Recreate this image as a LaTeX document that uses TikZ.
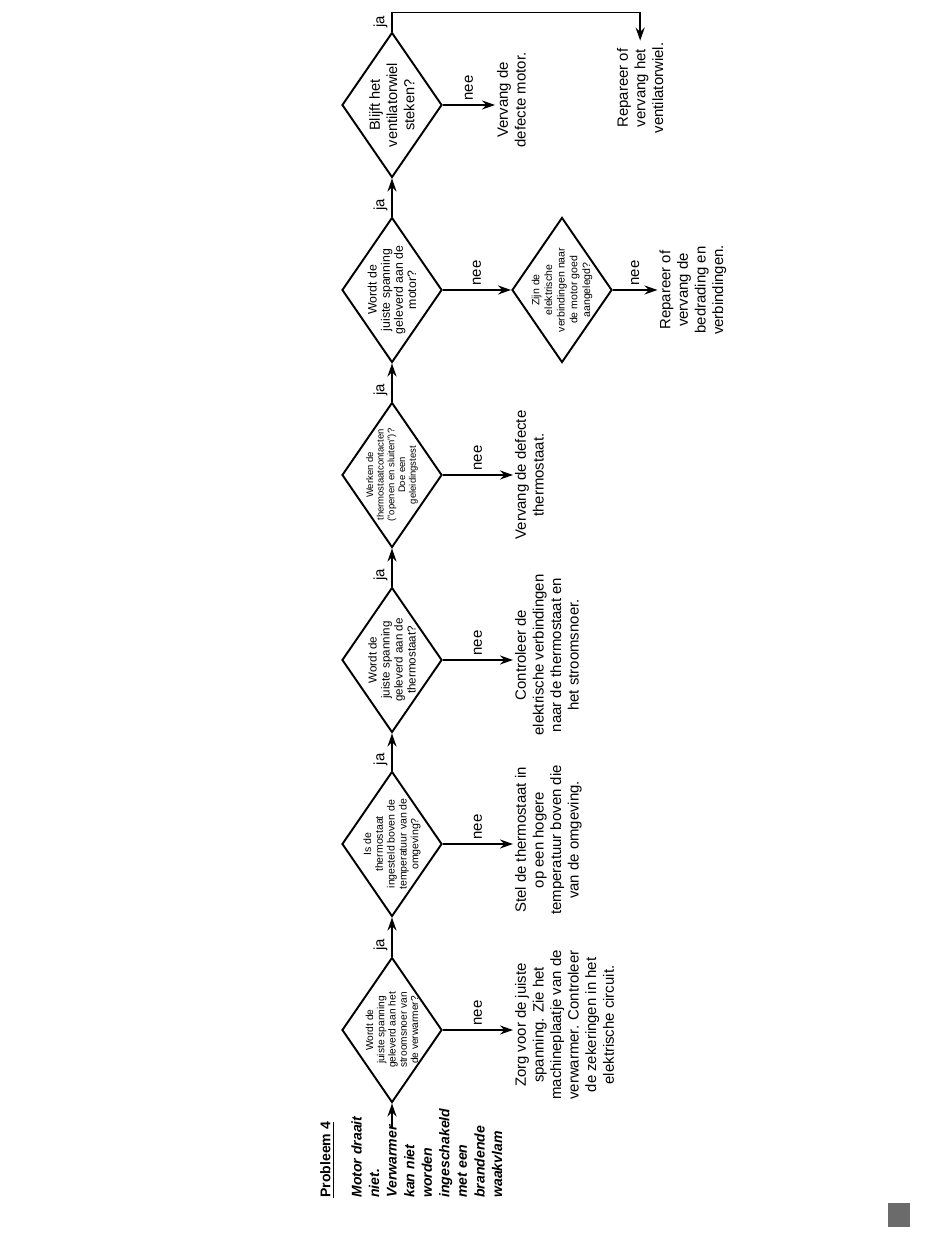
\documentclass[tikz,border=0pt]{standalone}
\usepackage{fontspec}
\setmainfont{Liberation Sans}
\usetikzlibrary{arrows.meta,shapes.geometric}

\begin{document}
\begin{tikzpicture}[
    >={Stealth[length=2.6mm,width=1.8mm]},
    dia/.style={draw, diamond, line width=1.1pt, minimum width=2.9cm,
                minimum height=2cm, inner sep=-5mm, align=center},
    act/.style={align=center, inner sep=1pt,
                font=\fontsize{8.5}{10}\selectfont},
    ttl/.style={inner sep=0pt, font=\fontsize{8}{10}\selectfont\bfseries},
    intro/.style={align=left, inner sep=0pt,
                  font=\fontsize{8}{10}\selectfont\bfseries\itshape},
    lab/.style={inner sep=2pt, font=\fontsize{8.5}{10}\selectfont},
    sig/.style={->, line width=1.1pt},
  ]
  \useasboundingbox (0,0) rectangle (19,24.82);

  %% the chart is set on its side: x runs up the page, y runs to the left
  \begin{scope}[rotate=90, transform shape]

  %% ---- problem statement ------------------------------------------
  \node[ttl, anchor=west] (title) at (0.86,-6.54) {\underline{Probleem 4}};
  \node[intro, anchor=north west] (intro) at (0.86,-7.02)
  {Motor draait\\niet.\\Verwarmer\\kan niet\\worden\\ingeschakeld\\met een\\brandende\\waakvlam};
  \coordinate (vw) at (2.26,-7.84);

  %% ---- question row (y = -7.84) -----------------------------------
  \node[dia, font=\fontsize{5.8}{6.4}\selectfont] (D1) at ( 4.22,-7.84)
  {Wordt de\\juiste spanning\\geleverd aan het\\stroomsnoer van\\de verwarmer?};
  \node[dia, font=\fontsize{6}{6.7}\selectfont] (D2) at ( 7.94,-7.84)
  {Is de\\thermostaat\\ingesteld boven de\\temperatuur van de\\omgeving?};
  \node[dia, font=\fontsize{6.6}{7.4}\selectfont] (D3) at (11.62,-7.84)
  {Wordt de\\juiste spanning\\geleverd aan de\\thermostaat?};
  \node[dia, font=\fontsize{5.4}{6.1}\selectfont] (D4) at (15.32,-7.84)
  {Werken de\\thermostaatcontacten\\("openen en sluiten")?\\Doe een\\geleidingstest};
  \node[dia, font=\fontsize{7}{7.5}\selectfont] (D5) at (19.02,-7.84)
  {Wordt de\\juiste spanning\\geleverd aan de\\motor?};
  \node[dia, font=\fontsize{6}{7.2}\selectfont] (D6) at (19.02,-11.24)
  {Zijn de\\elektrische\\verbindingen naar\\de motor goed\\aangelegd?};
  \node[dia, font=\fontsize{8.3}{9.8}\selectfont] (D7) at (22.72,-7.84)
  {Blijft het\\ventilatorwiel\\steken?};

  %% ---- remedies ---------------------------------------------------
  \node[act, anchor=north] (A1) at ( 4.32,-10.26)
  {Zorg voor de juiste\\spanning. Zie het\\machineplaatje van de\\verwarmer. Controleer\\de zekeringen in het\\elektrische circuit.};
  \node[act, anchor=north] (A2) at ( 8.02,-10.26)
  {Stel de thermostaat in\\op een hogere\\temperatuur boven die\\van de omgeving.};
  \node[act, anchor=north] (A3) at (11.72,-10.26)
  {Controleer de\\elektrische verbindingen\\naar de thermostaat en\\het stroomsnoer.};
  \node[act, anchor=north] (A4) at (15.32,-10.26)
  {Vervang de defecte\\thermostaat.};
  \node[act, anchor=north] (A6) at (19.02,-13.15)
  {Repareer of\\vervang de\\bedrading en\\verbindingen.};
  \node[act, anchor=north] (A7) at (22.82,-9.9)
  {Vervang de\\defecte motor.};
  \node[act, anchor=north] (A8) at (23.06,-12.3)
  {Repareer of\\vervang het\\ventilatorwiel.};

  %% ---- ja: on to the next question --------------------------------
  \draw[sig] (vw) -- (D1.west);
  \draw[sig] (D1.east) -- node[lab, above, pos=0.3] {ja} (D2.west);
  \draw[sig] (D2.east) -- node[lab, above, pos=0.3] {ja} (D3.west);
  \draw[sig] (D3.east) -- node[lab, above, pos=0.3] {ja} (D4.west);
  \draw[sig] (D4.east) -- node[lab, above, pos=0.3] {ja} (D5.west);
  \draw[sig] (D5.east) -- node[lab, above, pos=0.3] {ja} (D7.west);
  \draw[sig] (D7.east) -- node[lab, above] {ja} ++(0.38,0) |- (A8.east);

  %% ---- nee: remedy ------------------------------------------------
  \draw[sig] (D1.south) -- node[lab, right] {nee} (D1.south |- A1.north);
  \draw[sig] (D2.south) -- node[lab, right] {nee} (D2.south |- A2.north);
  \draw[sig] (D3.south) -- node[lab, right] {nee} (D3.south |- A3.north);
  \draw[sig] (D4.south) -- node[lab, right] {nee} (D4.south |- A4.north);
  \draw[sig] (D5.south) -- node[lab, right] {nee} (D6.north);
  \draw[sig] (D6.south) -- node[lab, right] {nee} (D6.south |- A6.north);
  \draw[sig] (D7.south) -- node[lab, right] {nee} (D7.south |- A7.north);

  \end{scope}

  %% page marker
  \fill[black!58] (17.76,0.28) rectangle (18.2,0.76);
\end{tikzpicture}
\end{document}
